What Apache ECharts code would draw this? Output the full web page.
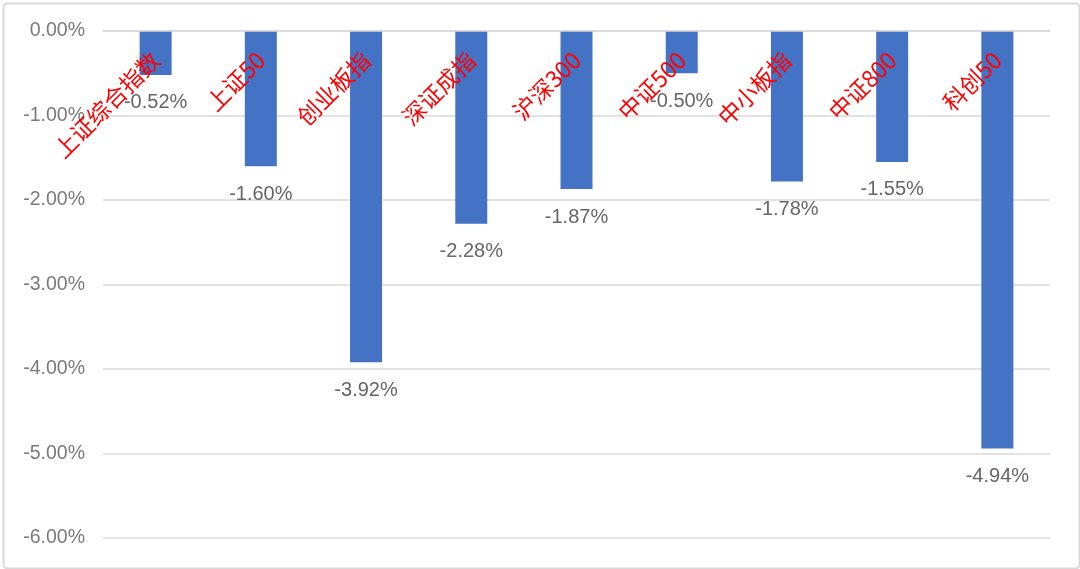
<!DOCTYPE html>
<html>
<head>
<meta charset="utf-8">
<style>
html,body{margin:0;padding:0;background:#fff;}
#chart{width:1080px;height:569px;}
</style>
<script src="https://cdn.jsdelivr.net/npm/echarts@6/dist/echarts.min.js"></script>
</head>
<body>
<div id="chart"></div>
<script>
const categories = ['上证综合指数','上证50','创业板指','深证成指','沪深300','中证500','中小板指','中证800','科创50'];
const changes = [-0.52, -1.60, -3.92, -2.28, -1.87, -0.50, -1.78, -1.55, -4.94];
const yMin = -6, yMax = 0, yStep = 1;

const chart = echarts.init(document.getElementById('chart'));
chart.setOption({
  backgroundColor: '#fff',
  animation: false,
  graphic: [{
    type: 'rect', left: 1, top: 1, silent: true, z: -1,
    shape: {width: 1076, height: 565, r: 4},
    style: {fill: 'none', stroke: '#d9d9d9', lineWidth: 2}
  }],
  grid: {left: 103, right: 30, top: 31, bottom: 31, containLabel: false},
  xAxis: {
    type: 'category',
    data: categories,
    position: 'top',
    axisLine: {show: true, lineStyle: {color: '#d9d9d9', width: 1.5}},
    axisTick: {show: false},
    axisLabel: {
      inside: true,
      rotate: 45,
      margin: 25,
      interval: 0,
      color: '#ff0000',
      fontSize: 23,
      fontFamily: 'Noto Sans CJK SC'
    },
    z: 10
  },
  yAxis: {
    type: 'value',
    min: yMin, max: yMax, interval: yStep,
    axisLine: {show: false},
    axisTick: {show: false},
    splitLine: {lineStyle: {color: '#d9d9d9', width: 1.5}},
    axisLabel: {
      margin: 18,
      color: '#7a7a7a',
      fontSize: 19.5,
      fontFamily: 'Liberation Sans',
      formatter: v => (Math.abs(v) < 1e-9 ? 0 : v).toFixed(2) + '%'
    }
  },
  series: [{
    type: 'bar',
    data: changes,
    barWidth: 32,
    itemStyle: {color: '#4472C4'},
    label: {
      show: true,
      position: 'bottom',
      distance: 18,
      color: '#666666',
      fontSize: 20,
      fontFamily: 'Liberation Sans',
      formatter: p => p.value.toFixed(2) + '%'
    }
  }]
});
</script>
</body>
</html>
